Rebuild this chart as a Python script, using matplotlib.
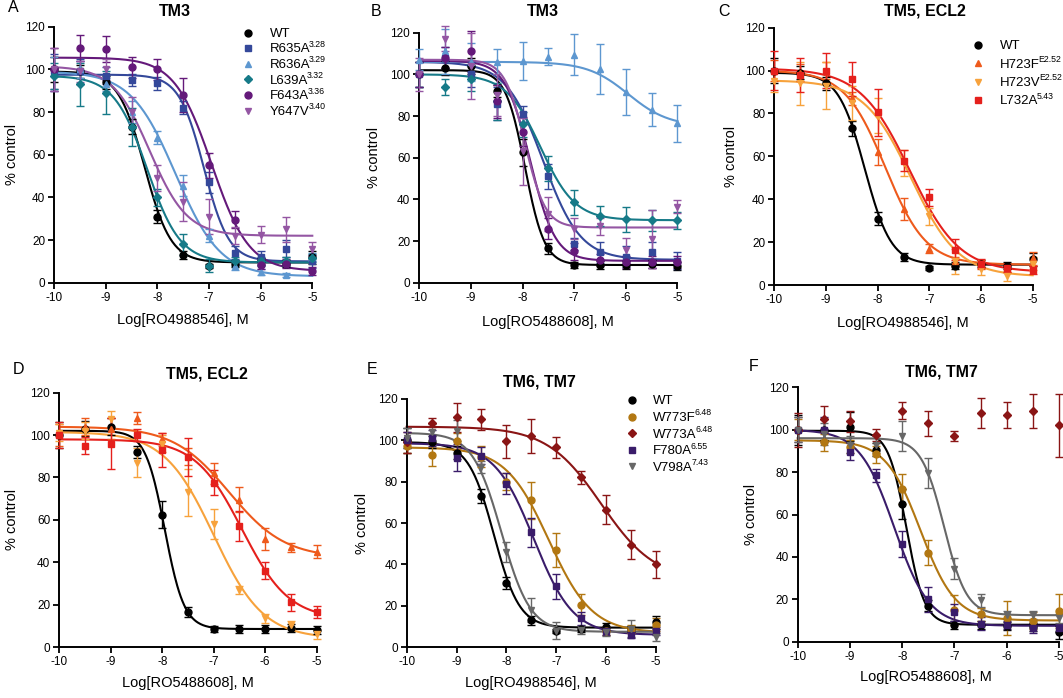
import matplotlib
matplotlib.use('Agg')
import matplotlib.pyplot as plt
import numpy as np

plt.rcParams['font.family'] = ['Liberation Sans', 'DejaVu Sans']
plt.rcParams['axes.unicode_minus'] = False

# ---------------- data ----------------
log_conc = [-10, -9.5, -9, -8.5, -8, -7.5, -7, -6.5, -6, -5.5, -5]
x_ticks = [-10, -9, -8, -7, -6, -5]
y_ticks = [0, 20, 40, 60, 80, 100, 120]

# WT, RO4988546 (panels A, C, E)
wt546 = [100, 99, 94, 73, 31, 13, 8, 9, 10, 9, 12]
wt546_err = [6, 3, 3, 3.5, 3, 2, 1, 1.5, 1.5, 1.5, 3]
wt546_fit = [99, 9.5, -8.25, 1.7]          # top, bottom, logIC50, hill

# WT, RO5488608 (panels B, D)
wt608 = [100, 103, 104, 92, 62.5, 16.5, 8.5, 8.5, 8.5, 9, 8]
wt608_err = [6, 3.5, 4, 3, 6.5, 2.5, 1.5, 2, 2, 2, 2]
wt608_fit = [102, 8.5, -7.95, 2.3]

# Panel A (TM3, RO4988546)
a_r635a = [99, 99, 97, 95, 93.5, 82, 47, 14, 12, 16, 10]
a_r635a_err = [8, 6, 4, 3, 3, 3, 5, 3, 3, 4, 3]
a_r635a_fit = [97.5, 10, -7.1, 1.8]
a_r636a = [98, 100, 93, 80, 68, 45.5, 22, 8, 5, 3.5, 12]
a_r636a_err = [8, 4, 3, 5, 3, 5, 3, 2, 1.5, 1, 2]
a_r636a_fit = [99, 3, -7.65, 1.0]
a_l639a = [97, 93, 89, 73, 40, 18, 8, 10, 10, 10, 11.5]
a_l639a_err = [6, 10, 10, 9, 4, 5, 3, 2, 2, 2, 2]
a_l639a_fit = [97, 9.5, -8.2, 1.35]
a_f643a = [100, 110, 109.5, 101, 100, 88, 55, 29.5, 8.5, 9, 5.5]
a_f643a_err = [10, 6, 6, 5, 5, 8, 6, 4, 2, 2, 2]
a_f643a_fit = [105.5, 5.5, -6.95, 1.2]
a_y647v = [100, 99, 100, 80, 49, 38, 31, 22, 22.5, 25, 16]
a_y647v_err = [10, 5, 5, 7, 6, 9, 8, 4, 4, 6, 3]
a_y647v_fit = [101.5, 22, -8.15, 1.2]

# Panel B (TM3, RO5488608)
b_r635a = [100, 108, 100, 86, 81, 51, 18.5, 14.5, 12.5, 14.5, 10.5]
b_r635a_err = [6, 5, 6, 8, 4, 6, 3, 5, 5, 5, 4]
b_r635a_fit = [106, 11, -7.6, 1.2]
b_r636a = [107, 111, 106, 106, 106.5, 108.5, 109.5, 102.5, 91.5, 83, 76.5]
b_r636a_err = [5, 11, 9, 6, 9, 4, 10, 12, 11, 8, 9]
b_r636a_fit = [106, 75, -5.95, 1.1]
b_l639a = [100, 94, 98, 87, 76, 55, 38.5, 32, 30.5, 30, 30]
b_l639a_err = [6, 4, 6, 9, 6, 6, 6, 5, 6, 5, 4]
b_l639a_fit = [100, 30, -7.65, 1.3]
b_f643a = [100, 108, 111, 87, 72.5, 26, 15, 11, 10, 10, 10]
b_f643a_err = [6, 5, 10, 8, 7, 5, 4, 3, 3, 3, 3]
b_f643a_fit = [106.5, 10.5, -7.85, 1.8]
b_y647v = [100, 117, 104, 90, 63, 33, 26, 27, 15.5, 21, 36.5]
b_y647v_err = [8, 6, 16, 10, 16, 8, 5, 4, 6, 14, 3]
b_y647v_fit = [107, 26.5, -7.95, 2.2]

# Panel C (TM5, ECL2, RO4988546)
c_h723f = [100, 99, 100, 87, 62, 35.5, 17, 11, 9.5, 8, 12.5]
c_h723f_err = [5, 4, 4, 3, 6, 5, 2, 2, 2, 2, 3]
c_h723f_fit = [100, 9.5, -7.85, 1.1]
c_h723v = [95, 94, 93, 85, 79, 57, 32, 11, 7.5, 4, 10]
c_h723v_err = [5, 10, 11, 8, 8, 6, 4, 6, 3, 2, 3]
c_h723v_fit = [95.5, 4, -7.35, 0.95]
c_l732a = [100, 98, 100, 96, 80.5, 58, 41, 16.5, 10, 8, 7]
c_l732a_err = [9, 8, 8, 8, 11, 5, 4, 5, 2, 2, 2]
c_l732a_fit = [101, 6, -7.38, 0.9]

# Panel D (TM5, ECL2, RO5488608)
d_h723f = [100, 104, 103, 108, 98, 90, 82, 69.5, 51, 47, 45]
d_h723f_err = [5, 4, 5, 3, 3, 4, 5, 6, 5, 2, 3]
d_h723f_fit = [104, 42, -6.7, 0.8]
d_h723v = [101, 102, 107.5, 87, 96, 73, 58, 27, 13.5, 10.5, 6]
d_h723v_err = [4, 4, 4, 7, 4, 11, 7, 2, 2, 2, 2]
d_h723v_fit = [101.5, 4, -7.0, 0.9]
d_l732a = [100, 95, 96, 100, 93, 89.5, 77.5, 57, 36, 21, 16.5]
d_l732a_err = [6, 4, 12, 3, 8, 9, 6, 7, 4, 4, 3]
d_l732a_fit = [98, 13, -6.45, 0.95]

# Panel E (TM6, TM7, RO4988546)
e_w773f = [97, 93, 99.5, 92, 80, 71, 47, 20.5, 8, 9, 11]
e_w773f_err = [3, 5.5, 4, 5, 4, 9, 8, 5, 2, 2, 3]
e_w773f_fit = [96.5, 7, -7.15, 1.0]
e_w773a = [99, 108.5, 111, 110, 99.5, 102, 96.5, 82, 66.5, 49.5, 40]
e_w773a_err = [5, 2, 7, 5, 8, 8, 5, 3, 7, 7, 6.5]
e_w773a_fit = [106.5, 32, -6.1, 0.8]
e_f780a = [100, 101, 91.5, 92.5, 79, 55.5, 29.5, 14, 8, 6, 8]
e_f780a_err = [4, 4, 6.5, 4, 5, 7, 6, 3, 2, 1.5, 2]
e_f780a_fit = [98.5, 6, -7.45, 1.1]
e_v798a = [101, 104, 104.5, 87, 46, 18, 8, 8.5, 7.5, 9, 5]
e_v798a_err = [5, 4, 5, 3, 5, 6, 4, 2, 2, 4, 2]
e_v798a_fit = [103.5, 7.5, -8.1, 1.5]

# Panel F (TM6, TM7, RO5488608)
f_wt = [100, 100, 101.5, 90.5, 65, 17, 8, 8, 7.5, 7, 4.5]
f_wt_err = [7, 5, 7, 3, 7, 2.5, 2, 2, 2, 2, 3]
f_wt_fit = [99.5, 8, -7.92, 2.5]
f_w773f = [100, 94, 92, 88.5, 72, 42, 15, 13, 11, 10, 14.5]
f_w773f_err = [5, 4, 3, 4, 7, 6, 7, 3, 8, 4, 8]
f_w773f_fit = [95, 10, -7.65, 1.3]
f_w773a = [100, 105, 104, 97.5, 109, 103, 97, 108, 107, 109, 102]
f_w773a_err = [8, 6, 5, 3, 4, 6, 2.5, 7, 6, 8, 15]
f_f780a = [100, 100, 89.5, 78.5, 46, 20, 14, 8.5, 8, 6.5, 6.5]
f_f780a_err = [6, 6, 4, 3, 6, 6, 4, 3, 2, 2.5, 2]
f_f780a_fit = [100, 7.5, -8.15, 1.3]
f_v798a = [100, 98, 93, 93, 97, 79.5, 34.5, 19.5, 12.5, 12.5, 11]
f_v798a_err = [6, 5, 4, 4, 7, 7, 5, 3, 2, 2, 2]
f_v798a_fit = [96, 12.5, -7.2, 2.0]

# ---------------- styles ----------------
C_WT = '#000000'
C_R635A = '#34489a'
C_R636A = '#5d97d0'
C_L639A = '#167a88'
C_F643A = '#64197a'
C_Y647V = '#9456a3'
C_H723F = '#ee5a1c'
C_H723V = '#f7a23c'
C_L732A = '#e5201c'
C_W773F = '#b27712'
C_W773A = '#8a1515'
C_F780A = '#3a1c6a'
C_V798A = '#676767'

W, H = 1063, 698
fig = plt.figure(figsize=(W / 100, H / 100), dpi=100)
renderer = fig.canvas.get_renderer()


def fx(px):
    return px / W


def fy(py):
    return 1 - py / H


def logistic(x, top, bottom, ic, hill):
    return bottom + (top - bottom) / (1 + 10 ** ((x - ic) * hill))


def make_axes(x0, x1, y0, y120):
    ax = fig.add_axes([fx(x0), fy(y0), (x1 - x0) / W, (y0 - y120) / H])
    ax.set_xlim(-10, -5)
    ax.set_ylim(0, 120)
    for s in ['top', 'right']:
        ax.spines[s].set_visible(False)
    for s in ['left', 'bottom']:
        ax.spines[s].set_linewidth(1.4)
    ax.set_xticks(x_ticks)
    ax.set_xticklabels([str(t) for t in x_ticks])
    ax.set_yticks(y_ticks)
    ax.tick_params(direction='out', length=4, width=1.3, labelsize=8.5, pad=2.5)
    ax.patch.set_alpha(0)
    return ax


def series(ax, y, err, fit, color, marker, ms=5):
    if fit is not None:
        xs = np.linspace(-10, -5, 300)
        ax.plot(xs, logistic(xs, *fit), color=color, lw=1.5, zorder=2, clip_on=False)
    ax.errorbar(log_conc, y, yerr=err, fmt=marker, color=color, ms=ms,
                capsize=3, elinewidth=1.0, capthick=1.0, zorder=3, clip_on=False,
                mec=color, mfc=color)


def legend(entries, mx, tx, y0, dy):
    for i, (label, sup, color, marker, ms) in enumerate(entries):
        yy = y0 + i * dy
        fig.lines.append(plt.Line2D([fx(mx)], [fy(yy)], marker=marker, color=color,
                                    ms=ms, transform=fig.transFigure, ls='none'))
        t = fig.text(fx(tx), fy(yy + 4.3), label, fontsize=9.5, ha='left', va='baseline')
        if sup:
            w = t.get_window_extent(renderer=renderer).width
            fig.text(fx(tx + w - 1.5), fy(yy - 1.2), sup, fontsize=6.3,
                     ha='left', va='baseline')


def labels(letter, lpos, title, tpos, xlabel, xlpos, ylpos_x, ax):
    fig.text(fx(lpos[0]), fy(lpos[1]), letter, fontsize=11.5, ha='center', va='center')
    fig.text(fx(tpos[0]), fy(tpos[1]), title, fontsize=11.5, fontweight='bold',
             ha='center', va='center')
    fig.text(fx(xlpos[0]), fy(xlpos[1]), xlabel, fontsize=10.5, ha='center', va='center')
    bb = ax.get_position()
    fig.text(fx(ylpos_x), (bb.y0 + bb.y1) / 2, '% control', fontsize=10.5,
             rotation=90, ha='center', va='center')


# ---------------- Panel A ----------------
axA = make_axes(54.3, 312.3, 282.7, 26.7)
series(axA, wt546, wt546_err, wt546_fit, C_WT, 'o')
series(axA, a_r635a, a_r635a_err, a_r635a_fit, C_R635A, 's', 4.5)
series(axA, a_r636a, a_r636a_err, a_r636a_fit, C_R636A, '^')
series(axA, a_l639a, a_l639a_err, a_l639a_fit, C_L639A, 'D', 4)
series(axA, a_f643a, a_f643a_err, a_f643a_fit, C_F643A, 'o')
series(axA, a_y647v, a_y647v_err, a_y647v_fit, C_Y647V, 'v')
labels('A', (13, 8), 'TM3', (175, 11), 'Log[RO4988546], M', (183, 320), 12, axA)
legend([('WT', '', C_WT, 'o', 5),
        ('R635A', '3.28', C_R635A, 's', 4.5),
        ('R636A', '3.29', C_R636A, '^', 5),
        ('L639A', '3.32', C_L639A, 'D', 4),
        ('F643A', '3.36', C_F643A, 'o', 5),
        ('Y647V', '3.40', C_Y647V, 'v', 5)], 248, 270, 32.5, 15.6)

# ---------------- Panel B ----------------
axB = make_axes(419.3, 677.3, 282.7, 32.7)
series(axB, wt608, wt608_err, wt608_fit, C_WT, 'o')
series(axB, b_r635a, b_r635a_err, b_r635a_fit, C_R635A, 's', 4.5)
series(axB, b_r636a, b_r636a_err, b_r636a_fit, C_R636A, '^')
series(axB, b_l639a, b_l639a_err, b_l639a_fit, C_L639A, 'D', 4)
series(axB, b_f643a, b_f643a_err, b_f643a_fit, C_F643A, 'o')
series(axB, b_y647v, b_y647v_err, b_y647v_fit, C_Y647V, 'v')
labels('B', (376, 11), 'TM3', (543, 11), 'Log[RO5488608], M', (548, 322), 374, axB)

# ---------------- Panel C ----------------
axC = make_axes(774.3, 1032.7, 285, 27.7)
series(axC, wt546, wt546_err, wt546_fit, C_WT, 'o')
series(axC, c_h723f, c_h723f_err, c_h723f_fit, C_H723F, '^')
series(axC, c_h723v, c_h723v_err, c_h723v_fit, C_H723V, 'v')
series(axC, c_l732a, c_l732a_err, c_l732a_fit, C_L732A, 's', 4.5)
labels('C', (724, 11), 'TM5, ECL2', (925, 11), 'Log[RO4988546], M', (903, 323), 731, axC)
legend([('WT', '', C_WT, 'o', 5),
        ('H723F', 'E2.52', C_H723F, '^', 5),
        ('H723V', 'E2.52', C_H723V, 'v', 5),
        ('L732A', '5.43', C_L732A, 's', 4.5)], 978, 1000, 45, 18.3)

# ---------------- Panel D ----------------
axD = make_axes(59.3, 316.7, 647, 392.7)
series(axD, wt608, wt608_err, wt608_fit, C_WT, 'o')
series(axD, d_h723f, d_h723f_err, d_h723f_fit, C_H723F, '^')
series(axD, d_h723v, d_h723v_err, d_h723v_fit, C_H723V, 'v')
series(axD, d_l732a, d_l732a_err, d_l732a_fit, C_L732A, 's', 4.5)
labels('D', (19, 369), 'TM5, ECL2', (207, 374), 'Log[RO5488608], M', (188, 683), 12.5, axD)

# ---------------- Panel E ----------------
axE = make_axes(406.7, 656, 647.3, 398.7)
series(axE, wt546, wt546_err, wt546_fit, C_WT, 'o')
series(axE, e_w773f, e_w773f_err, e_w773f_fit, C_W773F, 'o')
series(axE, e_w773a, e_w773a_err, e_w773a_fit, C_W773A, 'D', 4)
series(axE, e_f780a, e_f780a_err, e_f780a_fit, C_F780A, 's', 4.5)
series(axE, e_v798a, e_v798a_err, e_v798a_fit, C_V798A, 'v')
labels('E', (372, 369), 'TM6, TM7', (539, 382), 'Log[RO4988546], M', (531, 683), 362.5, axE)
legend([('WT', '', C_WT, 'o', 5),
        ('W773F', '6.48', C_W773F, 'o', 5),
        ('W773A', '6.48', C_W773A, 'D', 4),
        ('F780A', '6.55', C_F780A, 's', 4.5),
        ('V798A', '7.43', C_V798A, 'v', 5)], 632, 653, 400, 16.6)

# ---------------- Panel F ----------------
axF = make_axes(797.7, 1059, 641.7, 387.3)
series(axF, f_wt, f_wt_err, f_wt_fit, C_WT, 'o')
series(axF, f_w773f, f_w773f_err, f_w773f_fit, C_W773F, 'o')
series(axF, f_w773a, f_w773a_err, None, C_W773A, 'D', 4)
series(axF, f_f780a, f_f780a_err, f_f780a_fit, C_F780A, 's', 4.5)
series(axF, f_v798a, f_v798a_err, f_v798a_fit, C_V798A, 'v')
labels('F', (754, 367), 'TM6, TM7', (941, 372), 'Log[RO5488608], M', (926, 677), 751, axF)

fig.savefig('out.png', dpi=100)
